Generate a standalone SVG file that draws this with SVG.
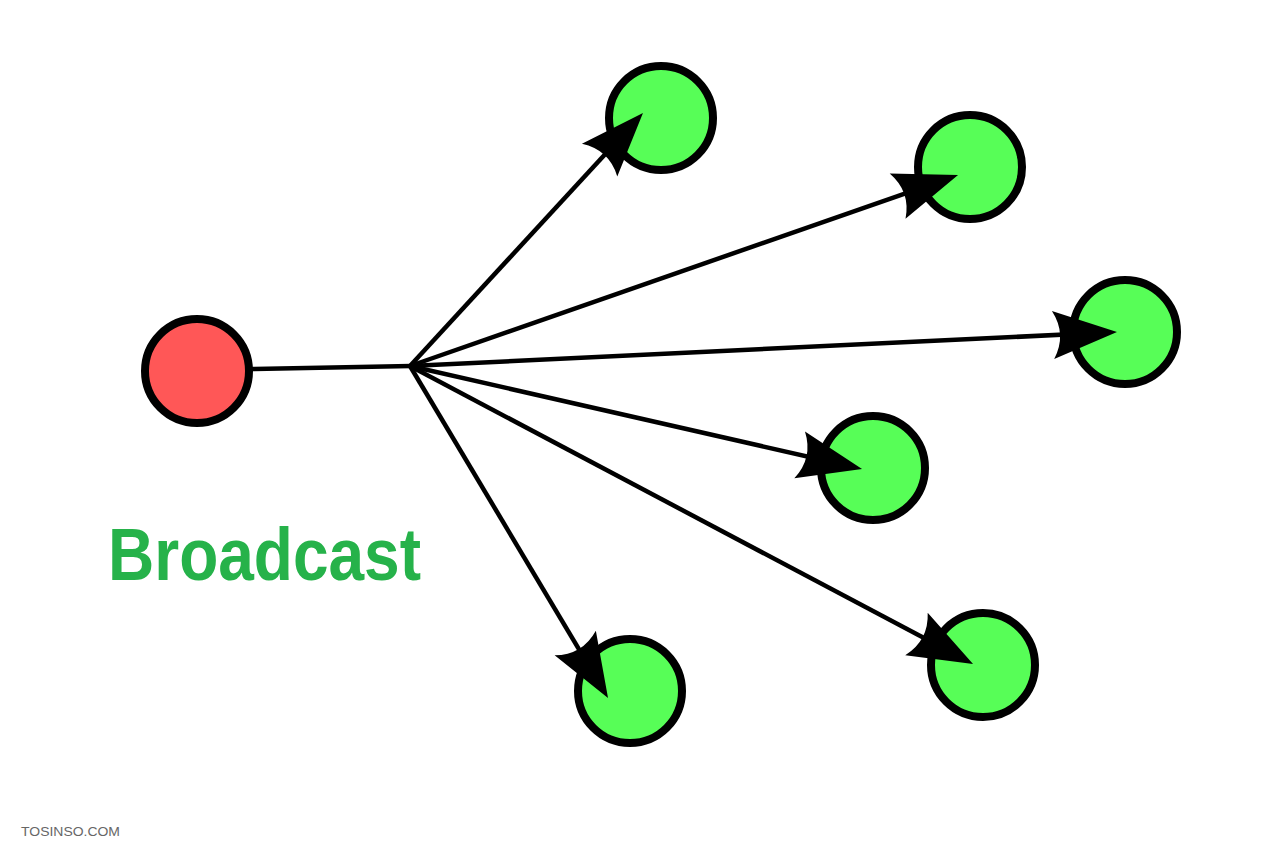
<svg xmlns="http://www.w3.org/2000/svg" width="1280" height="853" viewBox="0 0 1280 853">
<style>
.node{stroke:#000;stroke-width:8}
.green{fill:#57fe57}
.red{fill:#ff5757}
.conn{stroke:#000;stroke-width:4.5;fill:none}
.label{font-family:"Liberation Sans Narrow","Liberation Sans",Arial,sans-serif;font-weight:bold;fill:#26b24a}
.wm{font-family:"Liberation Sans",Arial,sans-serif;fill:#666}
</style>
<defs>
<marker id="ah" markerUnits="userSpaceOnUse" markerWidth="80" markerHeight="60" viewBox="-60 -30 80 60" refX="0" refY="0" orient="auto">
<path d="M10,0 L-54,-24 Q-40,0 -54,24 Z" fill="#000"/>
</marker>
</defs>
<rect width="1280" height="853" fill="#fff"/>
<g id="source"><circle class="node red" cx="197" cy="371" r="52"/></g>
<g id="n1"><circle class="node green" cx="661" cy="118" r="52"/></g>
<g id="n2"><circle class="node green" cx="970" cy="167" r="52"/></g>
<g id="n3"><circle class="node green" cx="1125" cy="332" r="52"/></g>
<g id="n4"><circle class="node green" cx="873" cy="468" r="52"/></g>
<g id="n5"><circle class="node green" cx="983" cy="665" r="52"/></g>
<g id="n6"><circle class="node green" cx="630" cy="691" r="52"/></g>
<g id="connectors">
<line class="conn" x1="252" y1="369" x2="411" y2="366"/>
<line class="conn" x1="410" y1="366" x2="636.2" y2="120.4" marker-end="url(#ah)"/>
<line class="conn" x1="410" y1="366" x2="948.6" y2="178.3" marker-end="url(#ah)"/>
<line class="conn" x1="410" y1="366" x2="1107" y2="332.5" marker-end="url(#ah)"/>
<line class="conn" x1="410" y1="366" x2="852.3" y2="466.8" marker-end="url(#ah)"/>
<line class="conn" x1="410" y1="366" x2="964.2" y2="659.3" marker-end="url(#ah)"/>
<line class="conn" x1="410" y1="366" x2="602.9" y2="689.4" marker-end="url(#ah)"/>
</g>
<text class="label" x="108" y="580" font-size="74" textLength="313" lengthAdjust="spacingAndGlyphs">Broadcast</text>
<text class="wm" x="21" y="836" font-size="13" textLength="99" lengthAdjust="spacingAndGlyphs">TOSINSO.COM</text>
</svg>
